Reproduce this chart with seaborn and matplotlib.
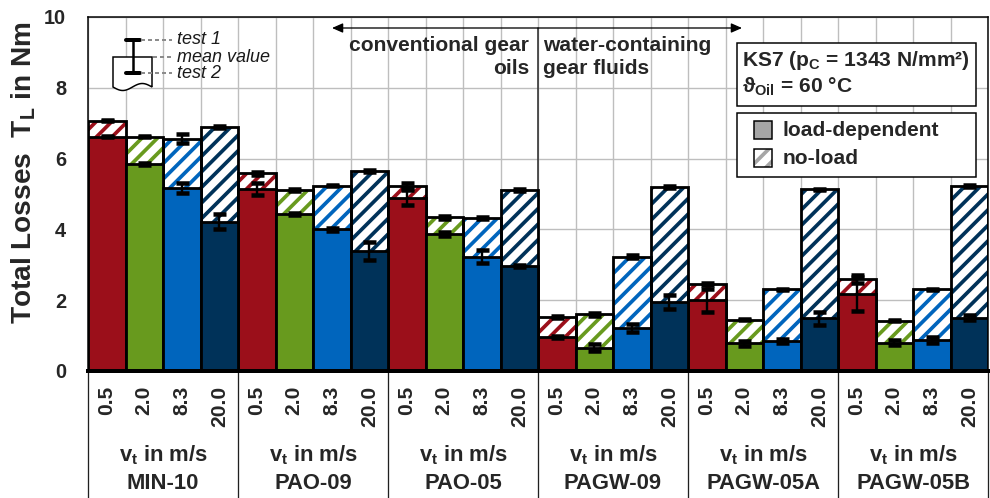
import numpy as np
import pandas as pd
import matplotlib
matplotlib.use("Agg")
import matplotlib.pyplot as plt
import matplotlib.transforms as mtransforms
from matplotlib.patches import Rectangle, Polygon
from matplotlib.lines import Line2D
import seaborn as sns

# ---- data -----------------------------------------------------------------
fluids = ["MIN-10", "PAO-09", "PAO-05", "PAGW-09", "PAGW-05A", "PAGW-05B"]
speeds = ["0.5", "2.0", "8.3", "20.0"]

# total losses (load-dependent + no-load), Nm
total_loss = [7.07, 6.62, 6.56, 6.90,
              5.58, 5.11, 5.24, 5.66,
              5.24, 4.34, 4.32, 5.11,
              1.52, 1.60, 3.23, 5.19,
              2.46, 1.45, 2.31, 5.13,
              2.60, 1.42, 2.31, 5.23]
# load-dependent share, Nm
load_loss = [6.62, 5.85, 5.17, 4.22,
             5.15, 4.43, 4.00, 3.38,
             4.90, 3.86, 3.23, 2.97,
             0.96, 0.66, 1.21, 1.96,
             2.00, 0.79, 0.84, 1.49,
             2.18, 0.80, 0.87, 1.50]
# half spread between test 1 and test 2
total_err = [0.02, 0.02, 0.13, 0.03,
             0.03, 0.03, 0.02, 0.03,
             0.08, 0.04, 0.02, 0.02,
             0.02, 0.05, 0.05, 0.03,
             0.04, 0.02, 0.02, 0.02,
             0.10, 0.02, 0.02, 0.03]
load_err = [0.02, 0.02, 0.13, 0.22,
            0.17, 0.03, 0.04, 0.25,
            0.22, 0.06, 0.18, 0.03,
            0.02, 0.10, 0.12, 0.20,
            0.33, 0.07, 0.06, 0.19,
            0.48, 0.07, 0.08, 0.07]

speed_colors = ["#9B0F1A", "#689A1E", "#0065BD", "#003259"]

# ---- figure geometry (pixel based) ----------------------------------------
DPI = 140
W, H = 990, 498


def pt(px):
    return px * 72.0 / DPI


def fx(px):
    return px / W


def fy(py):
    return 1.0 - py / H


sns.set_theme(style="white")
plt.rcParams["font.family"] = ["Liberation Sans", "DejaVu Sans"]
plt.rcParams["font.weight"] = "bold"
plt.rcParams["mathtext.fontset"] = "custom"
plt.rcParams["mathtext.rm"] = "Liberation Sans:bold"
plt.rcParams["mathtext.bf"] = "Liberation Sans:bold"
plt.rcParams["mathtext.it"] = "Liberation Sans:italic:bold"
plt.rcParams["mathtext.sf"] = "Liberation Sans:bold"
plt.rcParams["hatch.linewidth"] = pt(3.7)

HATCH = "///"

fig = plt.figure(figsize=(W / DPI, H / DPI), dpi=DPI)
AX_L, AX_R, AX_T, AX_B = 88, 988, 17, 371
ax = fig.add_axes([fx(AX_L), fy(AX_B), (AX_R - AX_L) / W, (AX_B - AX_T) / H])

df = pd.DataFrame({
    "slot": np.arange(len(total_loss)),
    "fluid": np.repeat(fluids, len(speeds)),
    "speed": np.tile(speeds, len(fluids)),
    "total": total_loss,
    "load": load_loss,
    "total_err": total_err,
    "load_err": load_err,
})

EDGE = pt(2.8)

# no-load part: hatched full-height bars
sns.barplot(data=df, x="slot", y="total", hue="speed", hue_order=speeds,
            palette=speed_colors, saturation=1, dodge=False, width=1.0,
            errorbar=None, legend=False, ax=ax, zorder=2)
for p in ax.patches:
    c = p.get_facecolor()
    p.set_facecolor("white")
    p.set_edgecolor(c)
    p.set_hatch(HATCH)
    p.set_linewidth(0)
n_hatch = len(ax.patches)

# black outlines around the total bars
sns.barplot(data=df, x="slot", y="total", color="black", saturation=1,
            width=1.0, errorbar=None, ax=ax, zorder=3)
for p in ax.patches[n_hatch:]:
    p.set_facecolor("none")
    p.set_edgecolor("black")
    p.set_linewidth(EDGE)
n_outline = len(ax.patches)

# load-dependent part: solid bars
sns.barplot(data=df, x="slot", y="load", hue="speed", hue_order=speeds,
            palette=speed_colors, saturation=1, dodge=False, width=1.0,
            errorbar=None, legend=False, ax=ax, zorder=4)
for p in ax.patches[n_outline:]:
    p.set_edgecolor("black")
    p.set_linewidth(EDGE)

# spread between the two test runs
for col, ecol in (("total", "total_err"), ("load", "load_err")):
    ax.errorbar(df["slot"], df[col], yerr=df[ecol], fmt="none",
                ecolor="black", elinewidth=pt(2.4), capsize=pt(6.5),
                capthick=pt(4.5), zorder=6)

# ---- axes styling -----------------------------------------------------------
ax.set_xlim(-0.5, len(total_loss) - 0.5)
ax.set_ylim(0, 10)
ax.set_yticks(np.arange(0, 11, 2))
ax.set_yticklabels([f"{v:d}" for v in range(0, 11, 2)],
                   fontsize=pt(20), fontweight="bold")
ax.set_xticks(np.arange(len(total_loss)))
ax.set_xticklabels(list(df["speed"]), rotation=90, fontsize=pt(21),
                   fontweight="bold")
ax.set_xticks(np.arange(-0.5, len(total_loss), 1.0), minor=True)
ax.tick_params(axis="x", which="both", length=0, pad=pt(15))
ax.tick_params(axis="y", length=0, pad=pt(22))
ax.set_xlabel("")

grid_kw = dict(color="#BEBEBE", linewidth=pt(1.4))
ax.yaxis.grid(True, which="major", **grid_kw)
ax.xaxis.grid(True, which="minor", **grid_kw)
ax.xaxis.grid(False, which="major")
ax.set_axisbelow(True)

for side in ("left", "top", "right"):
    ax.spines[side].set_color("black")
    ax.spines[side].set_linewidth(pt(1.5))
ax.spines["bottom"].set_color("black")
ax.spines["bottom"].set_linewidth(pt(4))
ax.spines["bottom"].set_zorder(7)

ax.set_ylabel("Total Losses  T$_\\mathregular{L}$ in Nm", fontsize=pt(28),
              fontweight="bold")
ax.yaxis.label.set(ha="center", va="center", rotation_mode="anchor")
ax.yaxis.set_label_coords((24 - AX_L) / (AX_R - AX_L),
                          (AX_B - 173) / (AX_B - AX_T))

# group separators below the axis
below = mtransforms.blended_transform_factory(ax.transData, ax.transAxes)
y_bottom = -(H - AX_B) / (AX_B - AX_T)
for b in np.arange(-0.5, len(total_loss), len(speeds)):
    ax.plot([b, b], [0, y_bottom], transform=below, color="#202020",
            linewidth=pt(1.3), clip_on=False)

# group labels
for g, name in enumerate(fluids):
    xc = g * len(speeds) + (len(speeds) - 1) / 2
    ax.text(xc, (AX_B - 455) / (AX_B - AX_T), "v$_\\mathregular{t}$ in m/s",
            transform=below, ha="center", va="center", fontsize=pt(22),
            fontweight="bold")
    ax.text(xc, (AX_B - 483) / (AX_B - AX_T), name, transform=below,
            ha="center", va="center", fontsize=pt(22), fontweight="bold")

# conventional / water-containing divider with arrow
split = 2 * len(speeds) + len(speeds) - 0.5
y_arrow = (AX_B - 28) / ((AX_B - AX_T) / 10)
ax.plot([split, split], [0, y_arrow], color="#303030", linewidth=pt(1.6),
        zorder=1.5)


def px_to_x(px):
    return (px - AX_L) / ((AX_R - AX_L) / len(total_loss)) - 0.5


ax.annotate("", xy=(px_to_x(332), y_arrow), xytext=(px_to_x(742), y_arrow),
            arrowprops=dict(arrowstyle="<|-|>,head_length=0.5,head_width=0.22",
                            color="black", lw=pt(1.3), shrinkA=0, shrinkB=0,
                            mutation_scale=pt(18)), zorder=8)

fig.text(fx(529), fy(57), "conventional gear\noils", ha="right", va="center",
         fontsize=pt(21), fontweight="bold", linespacing=1.3, zorder=9)
fig.text(fx(543), fy(57), "water-containing\ngear fluids", ha="left",
         va="center", fontsize=pt(21), fontweight="bold", linespacing=1.3,
         zorder=9)

# test condition box
fig.add_artist(Rectangle((fx(737), fy(106)), fx(976) - fx(737), fy(43) - fy(106),
                         transform=fig.transFigure, facecolor="white",
                         edgecolor="black", linewidth=pt(1.5), zorder=9))
fig.text(fx(742), fy(60), "KS7 (p$_\\mathregular{C}$ = 1343 N/mm²)",
         ha="left", va="center", fontsize=pt(21), fontweight="bold", zorder=10)
fig.text(fx(742), fy(87), "ϑ$_\\mathregular{Oil}$ = 60 °C",
         ha="left", va="center", fontsize=pt(21), fontweight="bold", zorder=10,
         family=["Liberation Sans", "DejaVu Sans"])

# legend box
fig.add_artist(Rectangle((fx(737), fy(177)), fx(976) - fx(737), fy(113) - fy(177),
                         transform=fig.transFigure, facecolor="white",
                         edgecolor="black", linewidth=pt(1.5), zorder=9))
for yc, label, hatched in ((130, "load-dependent", False),
                           (158, "no-load", True)):
    sq = Rectangle((fx(754), fy(yc + 9)), fx(772) - fx(754), fy(yc - 9) - fy(yc + 9),
                   transform=fig.transFigure, zorder=10,
                   facecolor="white" if hatched else "#A6A6A6",
                   edgecolor="#A6A6A6" if hatched else "black",
                   hatch=HATCH if hatched else None,
                   linewidth=0 if hatched else pt(1.5))
    fig.add_artist(sq)
    if hatched:
        fig.add_artist(Rectangle((fx(754), fy(yc + 9)), fx(772) - fx(754),
                                 fy(yc - 9) - fy(yc + 9),
                                 transform=fig.transFigure, zorder=11,
                                 facecolor="none", edgecolor="black",
                                 linewidth=pt(1.5)))
    fig.text(fx(783), fy(yc), label, ha="left", va="center", fontsize=pt(21),
             fontweight="bold", zorder=10)

# explanation of the error bars (top left)
wave_x = np.linspace(152, 113, 40)
wave_y = 87 + 3.5 * np.sin((wave_x - 113) / 39 * 2 * np.pi)
outline = [(113, 57), (152, 57)] + list(zip(wave_x, wave_y))
fig.add_artist(Polygon([(fx(a), fy(b)) for a, b in outline], closed=True,
                       transform=fig.transFigure, facecolor="white",
                       edgecolor="black", linewidth=pt(1.5), zorder=9))
fig.add_artist(Line2D([fx(133), fx(133)], [fy(40), fy(73)],
                      transform=fig.transFigure, color="black",
                      linewidth=pt(2.5), zorder=10))
for yc in (40, 73):
    fig.add_artist(Line2D([fx(126), fx(140)], [fy(yc), fy(yc)],
                          transform=fig.transFigure, color="black",
                          linewidth=pt(4), zorder=10))
for yc, x0, label in ((40, 141, "test 1"), (57, 153, "mean value"),
                      (73, 141, "test 2")):
    fig.add_artist(Line2D([fx(x0), fx(172)], [fy(yc), fy(yc)],
                          transform=fig.transFigure, color="#8C8C8C",
                          linewidth=pt(2), linestyle=(0, (2, 1.5)), zorder=10))
    fig.text(fx(177), fy(yc), label, ha="left", va="center", fontsize=pt(18),
             fontstyle="italic", fontweight="normal", color="#1A1A1A",
             zorder=10)

fig.savefig("out.png", dpi=DPI)
